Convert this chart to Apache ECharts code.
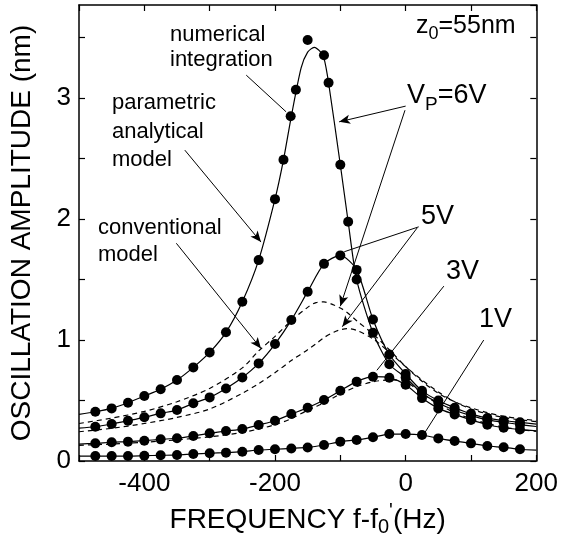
<!DOCTYPE html>
<html>
<head>
<meta charset="utf-8">
<script src="https://cdn.jsdelivr.net/npm/echarts@6/dist/echarts.min.js"></script>
<style>
html,body{margin:0;padding:0;background:#fff;}
#chart{width:561px;height:543px;}
</style>
</head>
<body>
<div id="chart"></div>
<script>
// ---------- data ----------
// uniform frequency grid of the numerical-integration points (Hz)
const freqPts = [-475,-450,-425,-400,-375,-350,-325,-300,-275,-250,-225,-200,-175,-150,-125,-100,-75,-50,-25,0,25,50,75,100,125,150,175];
// 6 V numerical integration points (irregular sampling near resonance)
const freq6 = [-475,-450,-425,-400,-375,-350,-325,-300,-275,-250,-225,-200,-187,-176,-168,-150,-125,-118,-100,-88,-75,-50,-25,0,25,50,75,100,125,150,175];
const amp6  = [0.407,0.435,0.482,0.537,0.593,0.669,0.774,0.898,1.064,1.317,1.661,2.165,2.49,2.85,3.07,3.48,3.355,3.127,2.449,1.978,1.50,1.06,0.80,0.69,0.56,0.48,0.42,0.375,0.34,0.32,0.30];
const amp5  = [0.283,0.306,0.333,0.361,0.394,0.421,0.477,0.526,0.60,0.69,0.807,0.967,1.165,1.40,1.63,1.70,1.58,1.17,0.88,0.72,0.58,0.50,0.44,0.39,0.355,0.335,0.32];
const amp3  = [0.146,0.155,0.16,0.168,0.179,0.188,0.207,0.229,0.248,0.264,0.298,0.333,0.388,0.44,0.504,0.581,0.656,0.697,0.689,0.63,0.52,0.435,0.385,0.34,0.30,0.275,0.26];
const amp1  = [0.041,0.041,0.041,0.044,0.047,0.05,0.058,0.064,0.069,0.077,0.091,0.097,0.104,0.112,0.132,0.16,0.174,0.196,0.223,0.223,0.215,0.187,0.165,0.146,0.124,0.113,0.097];

// parametric analytical model (solid curves)
const freqFit6 = [-500,-475,-450,-425,-400,-375,-350,-325,-300,-275,-250,-225,-200,-187,-175,-160,-150,-140,-130,-125,-118,-100,-88,-75,-50,-25,0,25,50,75,100,125,150,175,200];
const fit6     = [0.385,0.407,0.435,0.482,0.537,0.593,0.669,0.774,0.898,1.064,1.317,1.661,2.165,2.49,2.85,3.25,3.38,3.42,3.38,3.33,3.127,2.449,1.978,1.50,1.06,0.80,0.69,0.56,0.48,0.42,0.375,0.34,0.32,0.30,0.285];
const freqFit  = [-500,-475,-450,-425,-400,-375,-350,-325,-300,-275,-250,-225,-200,-175,-150,-125,-100,-75,-50,-25,0,25,50,75,100,125,150,175,200];
const fit5 = [0.272,0.283,0.306,0.333,0.361,0.394,0.421,0.477,0.526,0.60,0.69,0.807,0.967,1.165,1.40,1.63,1.70,1.58,1.17,0.88,0.72,0.58,0.50,0.44,0.39,0.355,0.335,0.32,0.305];
const fit3 = [0.14,0.146,0.155,0.16,0.168,0.179,0.188,0.207,0.229,0.248,0.264,0.298,0.333,0.388,0.44,0.504,0.581,0.656,0.697,0.689,0.63,0.52,0.435,0.385,0.34,0.30,0.275,0.26,0.25];
const fit1 = [0.04,0.041,0.041,0.041,0.044,0.047,0.05,0.058,0.064,0.069,0.077,0.091,0.097,0.104,0.112,0.132,0.16,0.174,0.196,0.223,0.223,0.215,0.187,0.165,0.146,0.124,0.113,0.097,0.09];

// conventional model (dashed curves)
const freqConv = [-500,-450,-400,-350,-300,-250,-225,-200,-175,-150,-137,-125,-110,-100,-90,-75,-50,-25,0,25,50,75,100,125,150,175,200];
const conv6 = [0.31,0.355,0.41,0.49,0.60,0.77,0.91,1.03,1.16,1.27,1.31,1.315,1.29,1.265,1.23,1.16,1.05,0.92,0.78,0.66,0.56,0.49,0.44,0.40,0.37,0.35,0.335];
const conv5 = [0.242,0.27,0.31,0.36,0.43,0.56,0.64,0.73,0.83,0.92,0.97,1.02,1.065,1.085,1.095,1.08,1.01,0.90,0.78,0.67,0.57,0.49,0.43,0.39,0.36,0.34,0.325];
const conv3 = [0.13,0.14,0.155,0.175,0.20,0.235,0.265,0.30,0.35,0.42,0.45,0.48,0.525,0.555,0.58,0.615,0.655,0.67,0.655,0.56,0.47,0.40,0.35,0.31,0.28,0.26,0.245];

// axis ticks
const xTicks = {min:-500, max:200, step:100, labelStep:200};
const yTicks = {min:0, max:3.77, step:0.5};

// annotation pointer lines [x1,y1,x2,y2,arrow]
const pointers = [
  [-244,3.19,-183,2.887,false],
  [-338,2.57,-221.4,1.81,true],
  [-351,1.80,-221.4,0.93,true],
  [0,2.934,-101.8,2.804,true],
  [-1,2.90,-100,1.28,true],
  [20,1.936,-94,1.73,false],
  [17.5,1.926,-97,1.11,true],
  [58.5,1.446,-44,0.75,false],
  [119.5,1.0,28,0.223,false]
];

// ---------- chart ----------
const zip = (xs, ys) => xs.map((x, i) => [x, ys[i]]);
const FONT = 'Liberation Sans, Arial, Helvetica, sans-serif';
const chart = echarts.init(document.getElementById('chart'), null, {renderer:'canvas'});

const solid = (d) => ({type:'line', data:d, symbol:'none', smooth:0.25, silent:true,
  lineStyle:{color:'#000', width:1.2}, z:2});
const dashed = (d) => ({type:'line', data:d, symbol:'none', smooth:0.3, silent:true,
  lineStyle:{color:'#000', width:1.2, type:[5,4]}, z:2});
const dots = (d) => ({type:'scatter', data:d, symbol:'circle', symbolSize:10, silent:true,
  itemStyle:{color:'#000', opacity:1}, z:3});

const markData = pointers.map(p => [
  {coord:[p[0],p[1]], symbol:'none'},
  {coord:[p[2],p[3]], symbol: p[4] ? 'arrow' : 'none'}
]);

const axisCommon = {
  axisLine:{show:true, onZero:false, lineStyle:{color:'#000', width:1.5}},
  axisTick:{show:true, inside:true, length:6, lineStyle:{color:'#000', width:1.2}},
  splitLine:{show:false}
};

const option = {
  animation:false,
  backgroundColor:'#fff',
  grid:{left:79, right:23, top:5, bottom:82, containLabel:false},
  xAxis:[
    Object.assign({type:'value', min:xTicks.min, max:xTicks.max, interval:xTicks.step, position:'bottom',
      name:'FREQUENCY f-f{sub|0}{sup|\'}(Hz)', nameLocation:'middle', nameGap:37,
      nameTextStyle:{color:'#000', fontSize:28, fontFamily:FONT,
        rich:{sub:{fontSize:20, fontFamily:FONT, color:'#000', verticalAlign:'bottom', padding:[16,0,0,0]},
              sup:{fontSize:20, fontFamily:FONT, color:'#000', verticalAlign:'top', padding:[0,0,10,0]}}},
      axisLabel:{color:'#000', fontSize:26, fontFamily:FONT, margin:10,
        formatter:(v)=> (v % xTicks.labelStep === 0 ? String(v) : '')}}, axisCommon),
    Object.assign({type:'value', min:xTicks.min, max:xTicks.max, interval:xTicks.step, position:'top',
      axisLabel:{show:false}}, axisCommon)
  ],
  yAxis:[
    Object.assign({type:'value', min:yTicks.min, max:yTicks.max, interval:yTicks.step, position:'left',
      name:'OSCILLATION AMPLITUDE (nm)', nameLocation:'middle', nameGap:43,
      nameTextStyle:{color:'#000', fontSize:28, fontFamily:FONT},
      axisLabel:{color:'#000', fontSize:26, fontFamily:FONT, margin:8, showMaxLabel:false,
        formatter:(v)=> (Math.abs(v - Math.round(v)) < 1e-9 ? String(Math.round(v)) : '')}}, axisCommon),
    Object.assign({type:'value', min:yTicks.min, max:yTicks.max, interval:yTicks.step, position:'right',
      axisLabel:{show:false}}, axisCommon)
  ],
  series:[
    solid(zip(freqFit6, fit6)),
    solid(zip(freqFit, fit5)),
    solid(zip(freqFit, fit3)),
    solid(zip(freqFit, fit1)),
    dashed(zip(freqConv, conv6)),
    dashed(zip(freqConv, conv5)),
    Object.assign(dashed(zip(freqConv, conv3)), {
      markLine:{silent:true, symbol:['none','arrow'], symbolSize:[7,11], animation:false,
        label:{show:false}, lineStyle:{color:'#000', width:1, type:'solid'}, emphasis:{disabled:true},
        data:markData}
    }),
    dots(zip(freq6, amp6)),
    dots(zip(freqPts, amp5)),
    dots(zip(freqPts, amp3)),
    dots(zip(freqPts, amp1))
  ],
  graphic:[
    {type:'text', left:170, top:24, style:{text:'numerical', font:'22px '+FONT, fill:'#000'}},
    {type:'text', left:170, top:49, style:{text:'integration', font:'22px '+FONT, fill:'#000'}},
    {type:'text', left:112, top:92, style:{text:'parametric', font:'22px '+FONT, fill:'#000'}},
    {type:'text', left:112, top:121, style:{text:'analytical', font:'22px '+FONT, fill:'#000'}},
    {type:'text', left:112, top:149, style:{text:'model', font:'22px '+FONT, fill:'#000'}},
    {type:'text', left:98, top:217, style:{text:'conventional', font:'22px '+FONT, fill:'#000'}},
    {type:'text', left:98, top:244, style:{text:'model', font:'22px '+FONT, fill:'#000'}},
    {type:'text', left:416, top:14, style:{text:'z{sub|0}=55nm', font:'25px '+FONT, fill:'#000',
      rich:{sub:{font:'18px '+FONT, fill:'#000', verticalAlign:'bottom', padding:[16,0,0,0]}}}},
    {type:'text', left:407, top:82, style:{text:'V{sub|P}=6V', font:'27px '+FONT, fill:'#000',
      rich:{sub:{font:'19px '+FONT, fill:'#000', verticalAlign:'bottom', padding:[18,0,0,0]}}}},
    {type:'text', left:421, top:203, style:{text:'5V', font:'27px '+FONT, fill:'#000'}},
    {type:'text', left:446, top:258, style:{text:'3V', font:'27px '+FONT, fill:'#000'}},
    {type:'text', left:479, top:306, style:{text:'1V', font:'27px '+FONT, fill:'#000'}}
  ]
};
chart.setOption(option);
</script>
</body>
</html>
